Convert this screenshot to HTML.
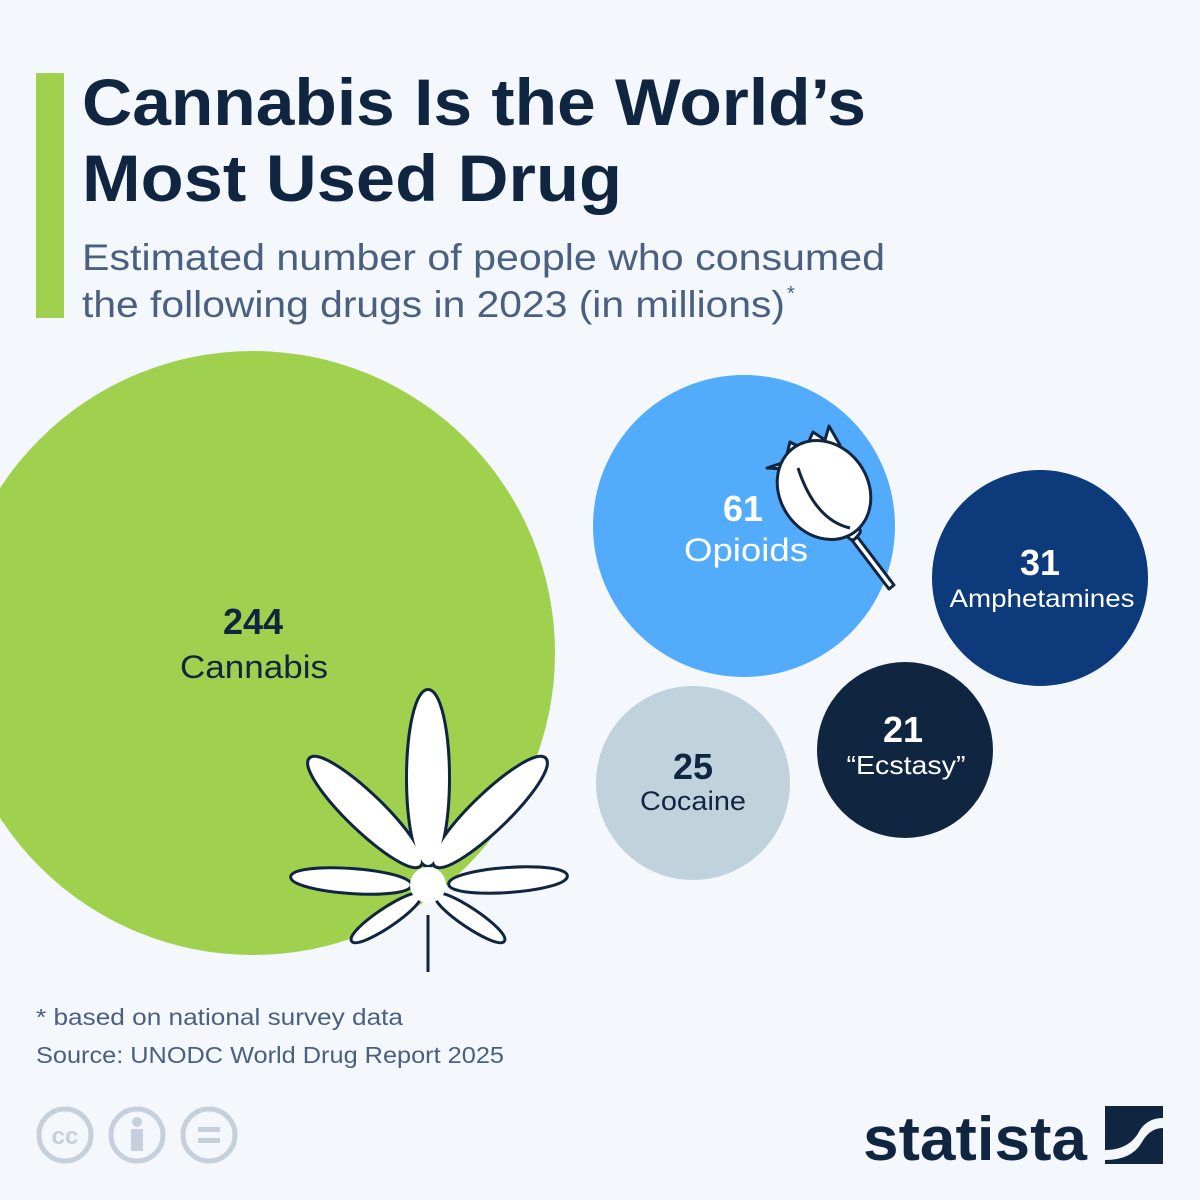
<!DOCTYPE html>
<html><head><meta charset="utf-8"><style>
body{margin:0;width:1200px;height:1200px;background:#f4f7fb;overflow:hidden;font-family:"Liberation Sans",sans-serif}
</style></head><body>
<svg width="1200" height="1200" viewBox="0 0 1200 1200" xmlns="http://www.w3.org/2000/svg" style="position:absolute;left:0;top:0">
<rect width="1200" height="1200" fill="#f4f7fb"/>
<rect x="36" y="73" width="28" height="245" fill="#9fd14e"/>
<g font-family="Liberation Sans, sans-serif" font-weight="bold" fill="#0f2540" font-size="66">
<text x="82" y="125" textLength="784" lengthAdjust="spacingAndGlyphs">Cannabis Is the World’s</text>
<text x="82" y="201" textLength="540" lengthAdjust="spacingAndGlyphs">Most Used Drug</text>
</g>
<g font-family="Liberation Sans, sans-serif" fill="#4a6080" font-size="37">
<text x="82" y="270" textLength="803" lengthAdjust="spacingAndGlyphs">Estimated number of people who consumed</text>
<text x="82" y="317" textLength="703" lengthAdjust="spacingAndGlyphs">the following drugs in 2023 (in millions)</text>
<text x="787" y="300" font-size="20">*</text>
</g>
<circle cx="253" cy="653" r="302" fill="#9fd14e"/>
<circle cx="744" cy="526" r="151" fill="#52acfb"/>
<circle cx="1040" cy="578" r="108" fill="#0c3a7a"/>
<circle cx="905" cy="750" r="88" fill="#0f2540"/>
<circle cx="693" cy="783" r="97" fill="#c0d3dd"/>
<g font-family="Liberation Sans, sans-serif" text-anchor="middle">
<text x="253" y="634" font-size="36" font-weight="bold" fill="#0f2540">244</text>
<text x="254" y="678" font-size="32" fill="#0f2540" textLength="148" lengthAdjust="spacingAndGlyphs">Cannabis</text>
<text x="743" y="521" font-size="36" font-weight="bold" fill="#fff">61</text>
<text x="746" y="561" font-size="32" fill="#fff" textLength="124" lengthAdjust="spacingAndGlyphs">Opioids</text>
<text x="1040" y="575" font-size="36" font-weight="bold" fill="#fff">31</text>
<text x="1042" y="607" font-size="25" fill="#fff" textLength="185" lengthAdjust="spacingAndGlyphs">Amphetamines</text>
<text x="903" y="742" font-size="36" font-weight="bold" fill="#fff">21</text>
<text x="906" y="774" font-size="26" fill="#fff" textLength="119" lengthAdjust="spacingAndGlyphs">“Ecstasy”</text>
<text x="693" y="779" font-size="36" font-weight="bold" fill="#0f2540">25</text>
<text x="693" y="810" font-size="27" fill="#0f2540" textLength="106" lengthAdjust="spacingAndGlyphs">Cocaine</text>
</g>
<!-- leaf -->
<g stroke="#0f2540" stroke-width="6" fill="#0f2540">
<ellipse cx="428" cy="778" rx="87" ry="20" transform="rotate(-90 428 778)"/>
<ellipse cx="365" cy="812" rx="76" ry="17" transform="rotate(44 365 812)"/>
<ellipse cx="490" cy="812" rx="76" ry="17" transform="rotate(-44 490 812)"/>
<ellipse cx="351" cy="881" rx="59" ry="11" transform="rotate(4 351 881)"/>
<ellipse cx="508" cy="880" rx="58" ry="11" transform="rotate(-4 508 880)"/>
<ellipse cx="386" cy="918" rx="40" ry="8" transform="rotate(-34 386 918)"/>
<ellipse cx="470" cy="918" rx="40" ry="8" transform="rotate(34 470 918)"/>
</g>
<g fill="#fff">
<ellipse cx="428" cy="778" rx="87" ry="20" transform="rotate(-90 428 778)"/>
<ellipse cx="365" cy="812" rx="76" ry="17" transform="rotate(44 365 812)"/>
<ellipse cx="490" cy="812" rx="76" ry="17" transform="rotate(-44 490 812)"/>
<ellipse cx="351" cy="881" rx="59" ry="11" transform="rotate(4 351 881)"/>
<ellipse cx="508" cy="880" rx="58" ry="11" transform="rotate(-4 508 880)"/>
<ellipse cx="386" cy="918" rx="40" ry="8" transform="rotate(-34 386 918)"/>
<ellipse cx="470" cy="918" rx="40" ry="8" transform="rotate(34 470 918)"/>
<circle cx="428" cy="885" r="18"/>
</g>
<line x1="428" y1="915" x2="428" y2="972" stroke="#0f2540" stroke-width="3"/>
<!-- poppy -->
<g stroke="#0f2540" stroke-width="3" fill="#fff" stroke-linejoin="round">
<path d="M856 535 L894 585 L889 589 L851 539 Z"/>
<rect x="838" y="522" width="22" height="14" rx="4" transform="rotate(40 849 529)"/>
<path d="M767 468 L785 462 L790 442 L805 450 L813 432 L825 440 L829 426 L840 445 L800 470 Z"/>
<ellipse cx="824" cy="490" rx="44" ry="52" transform="rotate(-35 824 490)"/>
<path d="M798 468 Q815 520 850 528" fill="none"/>
</g>
<g font-family="Liberation Sans, sans-serif" fill="#4a6080" font-size="23">
<text x="36" y="1025" textLength="367" lengthAdjust="spacingAndGlyphs">* based on national survey data</text>
<text x="36" y="1063" textLength="468" lengthAdjust="spacingAndGlyphs">Source: UNODC World Drug Report 2025</text>
</g>
<g stroke="#c5d0dc" stroke-width="5" fill="none">
<circle cx="65" cy="1135" r="26"/>
<circle cx="137" cy="1135" r="26"/>
<circle cx="209" cy="1135" r="26"/>
</g>
<text x="65" y="1144" text-anchor="middle" font-family="Liberation Sans, sans-serif" font-weight="bold" font-size="24" fill="#c5d0dc">cc</text>
<circle cx="137" cy="1122" r="5" fill="#c5d0dc"/>
<rect x="131" y="1129" width="12" height="22" fill="#c5d0dc"/>
<rect x="198" y="1127" width="22" height="5" fill="#c5d0dc"/>
<rect x="198" y="1138" width="22" height="5" fill="#c5d0dc"/>
<text x="863" y="1160" font-family="Liberation Sans, sans-serif" font-weight="bold" font-size="62" fill="#0f2540" textLength="224" lengthAdjust="spacingAndGlyphs">statista</text>
<rect x="1105" y="1106" width="58" height="58" fill="#0f2540"/>
<path d="M1105 1150 Q1130 1150 1140 1130 Q1148 1118 1163 1118 L1163 1128 Q1150 1128 1142 1142 Q1132 1160 1105 1160 Z" fill="#f4f7fb"/>
</svg>
</body></html>
